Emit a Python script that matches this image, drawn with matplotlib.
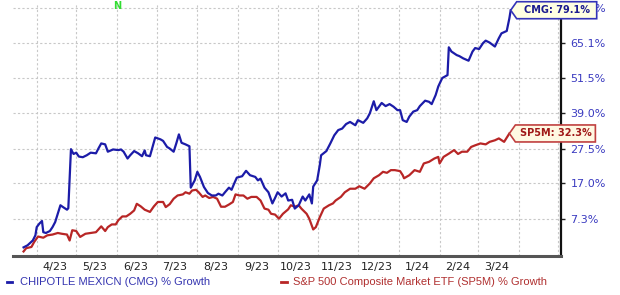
import numpy as np
import pandas as pd
import matplotlib
matplotlib.use('Agg')
import matplotlib.pyplot as plt
import matplotlib.dates as mdates
from matplotlib.patches import Polygon
from matplotlib.lines import Line2D
from matplotlib.transforms import ScaledTranslation

# ---- data (% growth since start) ----
cmg_dates = [
  '2023-03-22', '2023-03-25', '2023-03-29', '2023-03-31', '2023-04-01', '2023-04-03', '2023-04-05', '2023-04-06',
  '2023-04-08', '2023-04-11', '2023-04-13', '2023-04-15', '2023-04-19', '2023-04-21', '2023-04-24', '2023-04-25',
  '2023-04-27', '2023-04-28', '2023-04-29', '2023-05-01', '2023-05-03', '2023-05-06', '2023-05-09', '2023-05-12',
  '2023-05-16', '2023-05-18', '2023-05-20', '2023-05-23', '2023-05-25', '2023-05-29', '2023-06-02', '2023-06-04',
  '2023-06-06', '2023-06-09', '2023-06-11', '2023-06-14', '2023-06-17', '2023-06-20', '2023-06-22', '2023-06-23',
  '2023-06-26', '2023-06-28', '2023-06-30', '2023-07-04', '2023-07-06', '2023-07-09', '2023-07-11', '2023-07-14',
  '2023-07-16', '2023-07-18', '2023-07-20', '2023-07-23', '2023-07-26', '2023-07-27', '2023-07-30', '2023-08-01',
  '2023-08-03', '2023-08-06', '2023-08-09', '2023-08-12', '2023-08-15', '2023-08-17', '2023-08-20', '2023-08-22',
  '2023-08-25', '2023-08-27', '2023-08-29', '2023-08-31', '2023-09-04', '2023-09-07', '2023-09-10', '2023-09-14',
  '2023-09-16', '2023-09-18', '2023-09-21', '2023-09-24', '2023-09-27', '2023-09-29', '2023-10-01', '2023-10-04',
  '2023-10-07', '2023-10-09', '2023-10-12', '2023-10-14', '2023-10-17', '2023-10-20', '2023-10-22', '2023-10-25',
  '2023-10-27', '2023-10-28', '2023-10-31', '2023-11-02', '2023-11-03', '2023-11-07', '2023-11-10', '2023-11-13',
  '2023-11-16', '2023-11-19', '2023-11-22', '2023-11-25', '2023-11-29', '2023-12-01', '2023-12-05', '2023-12-08',
  '2023-12-10', '2023-12-13', '2023-12-15', '2023-12-19', '2023-12-22', '2023-12-25', '2023-12-28', '2023-12-31',
  '2024-01-02', '2024-01-04', '2024-01-07', '2024-01-09', '2024-01-12', '2024-01-15', '2024-01-17', '2024-01-21',
  '2024-01-24', '2024-01-26', '2024-01-29', '2024-01-31', '2024-02-03', '2024-02-07', '2024-02-08', '2024-02-10',
  '2024-02-14', '2024-02-16', '2024-02-19', '2024-02-23', '2024-02-26', '2024-02-28', '2024-03-02', '2024-03-05',
  '2024-03-07', '2024-03-10', '2024-03-14', '2024-03-17', '2024-03-19', '2024-03-23', '2024-03-25', '2024-03-26',
]
cmg_growth = [
  0.0, 0.5, 1.7, 3.0, 5.1, 6.0, 6.7, 3.8,
  3.6, 4.1, 5.1, 6.4, 10.9, 10.4, 9.7, 10.1,
  27.3, 26.5, 25.8, 26.2, 25.0, 24.8, 25.4, 26.2,
  26.0, 27.6, 29.1, 28.8, 26.5, 27.2, 27.0, 27.2,
  26.5, 24.4, 25.4, 26.7, 26.0, 25.1, 26.9, 25.4,
  25.1, 28.0, 31.0, 30.4, 29.9, 28.0, 27.5, 26.5,
  29.1, 32.0, 29.3, 28.8, 28.2, 15.8, 17.9, 20.4,
  18.9, 16.0, 14.3, 13.6, 13.6, 14.1, 13.6, 14.5,
  15.8, 15.2, 17.0, 18.7, 19.1, 20.7, 19.4, 18.9,
  17.9, 18.4, 15.8, 14.5, 11.4, 12.9, 14.5, 13.3,
  14.2, 12.2, 12.4, 10.0, 10.9, 13.3, 12.2, 13.9,
  11.4, 16.1, 17.9, 22.4, 25.4, 26.7, 29.1, 31.7,
  33.4, 33.9, 35.4, 36.1, 35.0, 36.7, 35.8, 37.3,
  39.0, 43.2, 40.1, 42.6, 41.5, 42.2, 41.3, 40.1,
  40.1, 36.7, 36.1, 37.9, 39.6, 40.1, 41.5, 43.4,
  43.0, 42.2, 45.4, 48.5, 51.6, 52.7, 63.5, 61.8,
  60.4, 60.0, 59.1, 58.2, 61.8, 63.2, 62.8, 65.2,
  66.2, 65.4, 63.8, 67.2, 69.2, 70.2, 75.6, 79.1,
]

sp5m_dates = [
  '2023-03-22', '2023-03-24', '2023-03-28', '2023-03-30', '2023-04-02', '2023-04-06', '2023-04-09', '2023-04-13',
  '2023-04-17', '2023-04-20', '2023-04-24', '2023-04-26', '2023-04-28', '2023-05-01', '2023-05-04', '2023-05-08',
  '2023-05-12', '2023-05-16', '2023-05-20', '2023-05-23', '2023-05-25', '2023-05-28', '2023-05-31', '2023-06-02',
  '2023-06-05', '2023-06-08', '2023-06-11', '2023-06-14', '2023-06-16', '2023-06-19', '2023-06-22', '2023-06-26',
  '2023-06-29', '2023-07-02', '2023-07-06', '2023-07-08', '2023-07-11', '2023-07-14', '2023-07-17', '2023-07-21',
  '2023-07-23', '2023-07-26', '2023-07-28', '2023-07-31', '2023-08-02', '2023-08-05', '2023-08-07', '2023-08-10',
  '2023-08-13', '2023-08-16', '2023-08-19', '2023-08-22', '2023-08-25', '2023-08-28', '2023-08-30', '2023-09-02',
  '2023-09-05', '2023-09-08', '2023-09-11', '2023-09-15', '2023-09-18', '2023-09-21', '2023-09-24', '2023-09-26',
  '2023-09-29', '2023-10-02', '2023-10-05', '2023-10-09', '2023-10-11', '2023-10-14', '2023-10-17', '2023-10-19',
  '2023-10-23', '2023-10-25', '2023-10-28', '2023-10-30', '2023-11-02', '2023-11-05', '2023-11-09', '2023-11-12',
  '2023-11-14', '2023-11-18', '2023-11-21', '2023-11-25', '2023-11-29', '2023-12-02', '2023-12-06', '2023-12-10',
  '2023-12-13', '2023-12-17', '2023-12-20', '2023-12-23', '2023-12-26', '2023-12-29', '2024-01-02', '2024-01-04',
  '2024-01-05', '2024-01-09', '2024-01-13', '2024-01-17', '2024-01-20', '2024-01-24', '2024-01-28', '2024-01-31',
  '2024-02-01', '2024-02-04', '2024-02-08', '2024-02-12', '2024-02-15', '2024-02-18', '2024-02-22', '2024-02-25',
  '2024-02-28', '2024-03-03', '2024-03-07', '2024-03-10', '2024-03-14', '2024-03-17', '2024-03-21', '2024-03-25',
]
sp5m_growth = [
  -1.0, -0.2, 0.1, 1.3, 2.7, 2.4, 3.0, 3.2,
  3.6, 3.4, 3.2, 1.7, 4.3, 4.1, 2.6, 3.4,
  3.6, 3.8, 5.3, 4.1, 5.1, 5.8, 5.8, 6.9,
  7.9, 7.9, 8.6, 9.5, 11.3, 10.6, 9.7, 9.1,
  10.6, 11.8, 11.8, 10.4, 11.2, 12.7, 13.6, 13.9,
  14.5, 14.1, 15.0, 15.2, 14.5, 13.2, 13.6, 12.9,
  13.2, 12.7, 10.5, 10.5, 11.1, 11.8, 13.9, 13.6,
  13.6, 12.7, 13.2, 13.2, 12.2, 10.0, 9.7, 8.6,
  8.4, 7.3, 8.6, 9.8, 10.9, 10.5, 10.9, 10.0,
  8.6, 7.3, 4.5, 5.1, 7.7, 10.0, 10.9, 11.4,
  12.2, 13.2, 14.5, 15.5, 15.5, 16.2, 15.5, 17.0,
  18.5, 19.4, 20.4, 20.1, 20.9, 20.9, 20.6, 19.4,
  18.5, 19.4, 20.9, 20.4, 22.9, 23.4, 24.4, 24.9,
  22.9, 24.9, 25.9, 27.0, 25.8, 26.5, 26.5, 28.0,
  28.5, 29.1, 28.8, 29.6, 30.1, 30.7, 29.6, 32.3,
]

y_ticks = [7.3, 17.0, 27.5, 39.0, 51.5, 65.1, 79.9]
cmg_name = 'CHIPOTLE MEXICN (CMG) % Growth'
sp5m_name = 'S&P 500 Composite Market ETF (SP5M) % Growth'

BLUE = '#1c1ca8'
RED = '#b82626'

cmg_x = pd.to_datetime(cmg_dates)
sp5m_x = pd.to_datetime(sp5m_dates)

fig = plt.figure(figsize=(6.2, 2.95), dpi=100)
ax = fig.add_axes([0.021, 0.1322, 0.8834, 0.8576])

# log scale on (1 + growth)
def fwd(g):
  return np.log1p(np.asarray(g, dtype=float) / 100.0)

def inv(v):
  return np.expm1(np.asarray(v, dtype=float)) * 100.0

ax.set_yscale('function', functions=(fwd, inv))

ax.plot(sp5m_x, sp5m_growth, color=RED, lw=1.6, zorder=3)
ax.plot(cmg_x, cmg_growth, color=BLUE, lw=1.6, zorder=4)

ax.set_xlim(pd.Timestamp('2023-03-14'), pd.Timestamp('2024-05-03'))
ax.set_ylim(-2.1, 82.3)

# y axis on the right
ax.yaxis.tick_right()
ax.set_yticks(y_ticks)
ax.set_yticklabels([f'{t:.1f}%' for t in y_ticks])
ax.yaxis.set_minor_locator(matplotlib.ticker.NullLocator())
ax.tick_params(axis='y', which='major', direction='out', length=3, width=1, pad=4,
               labelsize=8, labelcolor='#3a3ac0', color='#222222')

# x axis: gridlines on month starts, labels mid-month
ax.xaxis.set_minor_locator(mdates.MonthLocator(bymonthday=1))
label_days = pd.date_range('2023-04-01', '2024-03-01', freq='MS') + pd.Timedelta(days=14)
ax.set_xticks(label_days)
ax.set_xticklabels([f'{d.month}/{d.strftime("%y")}' for d in label_days])
ax.tick_params(axis='x', which='both', length=0, pad=4, labelsize=8, labelcolor='#222222')

ax.grid(False)
ax.xaxis.grid(True, which='minor', color='#c8c8c8', linestyle=(0, (2, 2)), lw=0.8)
ax.yaxis.grid(True, which='major', color='#c8c8c8', linestyle=(0, (2, 2)), lw=0.8)

for side in ['top', 'left']:
  ax.spines[side].set_visible(False)
ax.spines['bottom'].set_color('#555555')
ax.spines['bottom'].set_linewidth(2.2)
ax.spines['right'].set_color('#111111')
ax.spines['right'].set_linewidth(1.6)

# end-of-line tag labels
def end_tag(x, y, text, edge, fill, txt_color):
  anchor = ScaledTranslation(mdates.date2num(x), y, ax.transData)
  tr = fig.dpi_scale_trans + anchor
  verts = np.array([[0, 0], [6, 8.5], [86, 8.5], [86, -8.5], [6, -8.5]]) / 100.0
  ax.add_patch(Polygon(verts, closed=True, transform=tr, facecolor=fill, edgecolor=edge,
                       lw=1.2, clip_on=False, zorder=6))
  ax.text(0.46, 0, text, transform=tr, ha='center', va='center', fontsize=7,
          fontweight='bold', color=txt_color, clip_on=False, zorder=7)

end_tag(cmg_x[-1], cmg_growth[-1], f'CMG: {cmg_growth[-1]:.1f}%', '#3434b8', '#ffffe2', '#1c1c90')
end_tag(sp5m_x[-1], sp5m_growth[-1], f'SP5M: {sp5m_growth[-1]:.1f}%', '#c04040', '#fff8e2', '#a01818')

# news marker
ax.text(pd.Timestamp('2023-06-01'), 0.988, 'N', transform=ax.get_xaxis_transform(),
        ha='center', va='center', fontsize=7, fontweight='bold', color='#33dd33', clip_on=False)

# legend below
fig.lines.append(Line2D([7 / 620, 12 / 620], [0.044, 0.044], transform=fig.transFigure, color=BLUE, lw=2))
fig.text(20 / 620, 0.044, cmg_name, ha='left', va='center', fontsize=8, family='Liberation Sans', color='#3434b0')
fig.lines.append(Line2D([281 / 620, 287 / 620], [0.044, 0.044], transform=fig.transFigure, color=RED, lw=2))
fig.text(293 / 620, 0.044, sp5m_name, ha='left', va='center', fontsize=8, family='Liberation Sans', color='#b03030')

fig.savefig('out.png', dpi=100)
